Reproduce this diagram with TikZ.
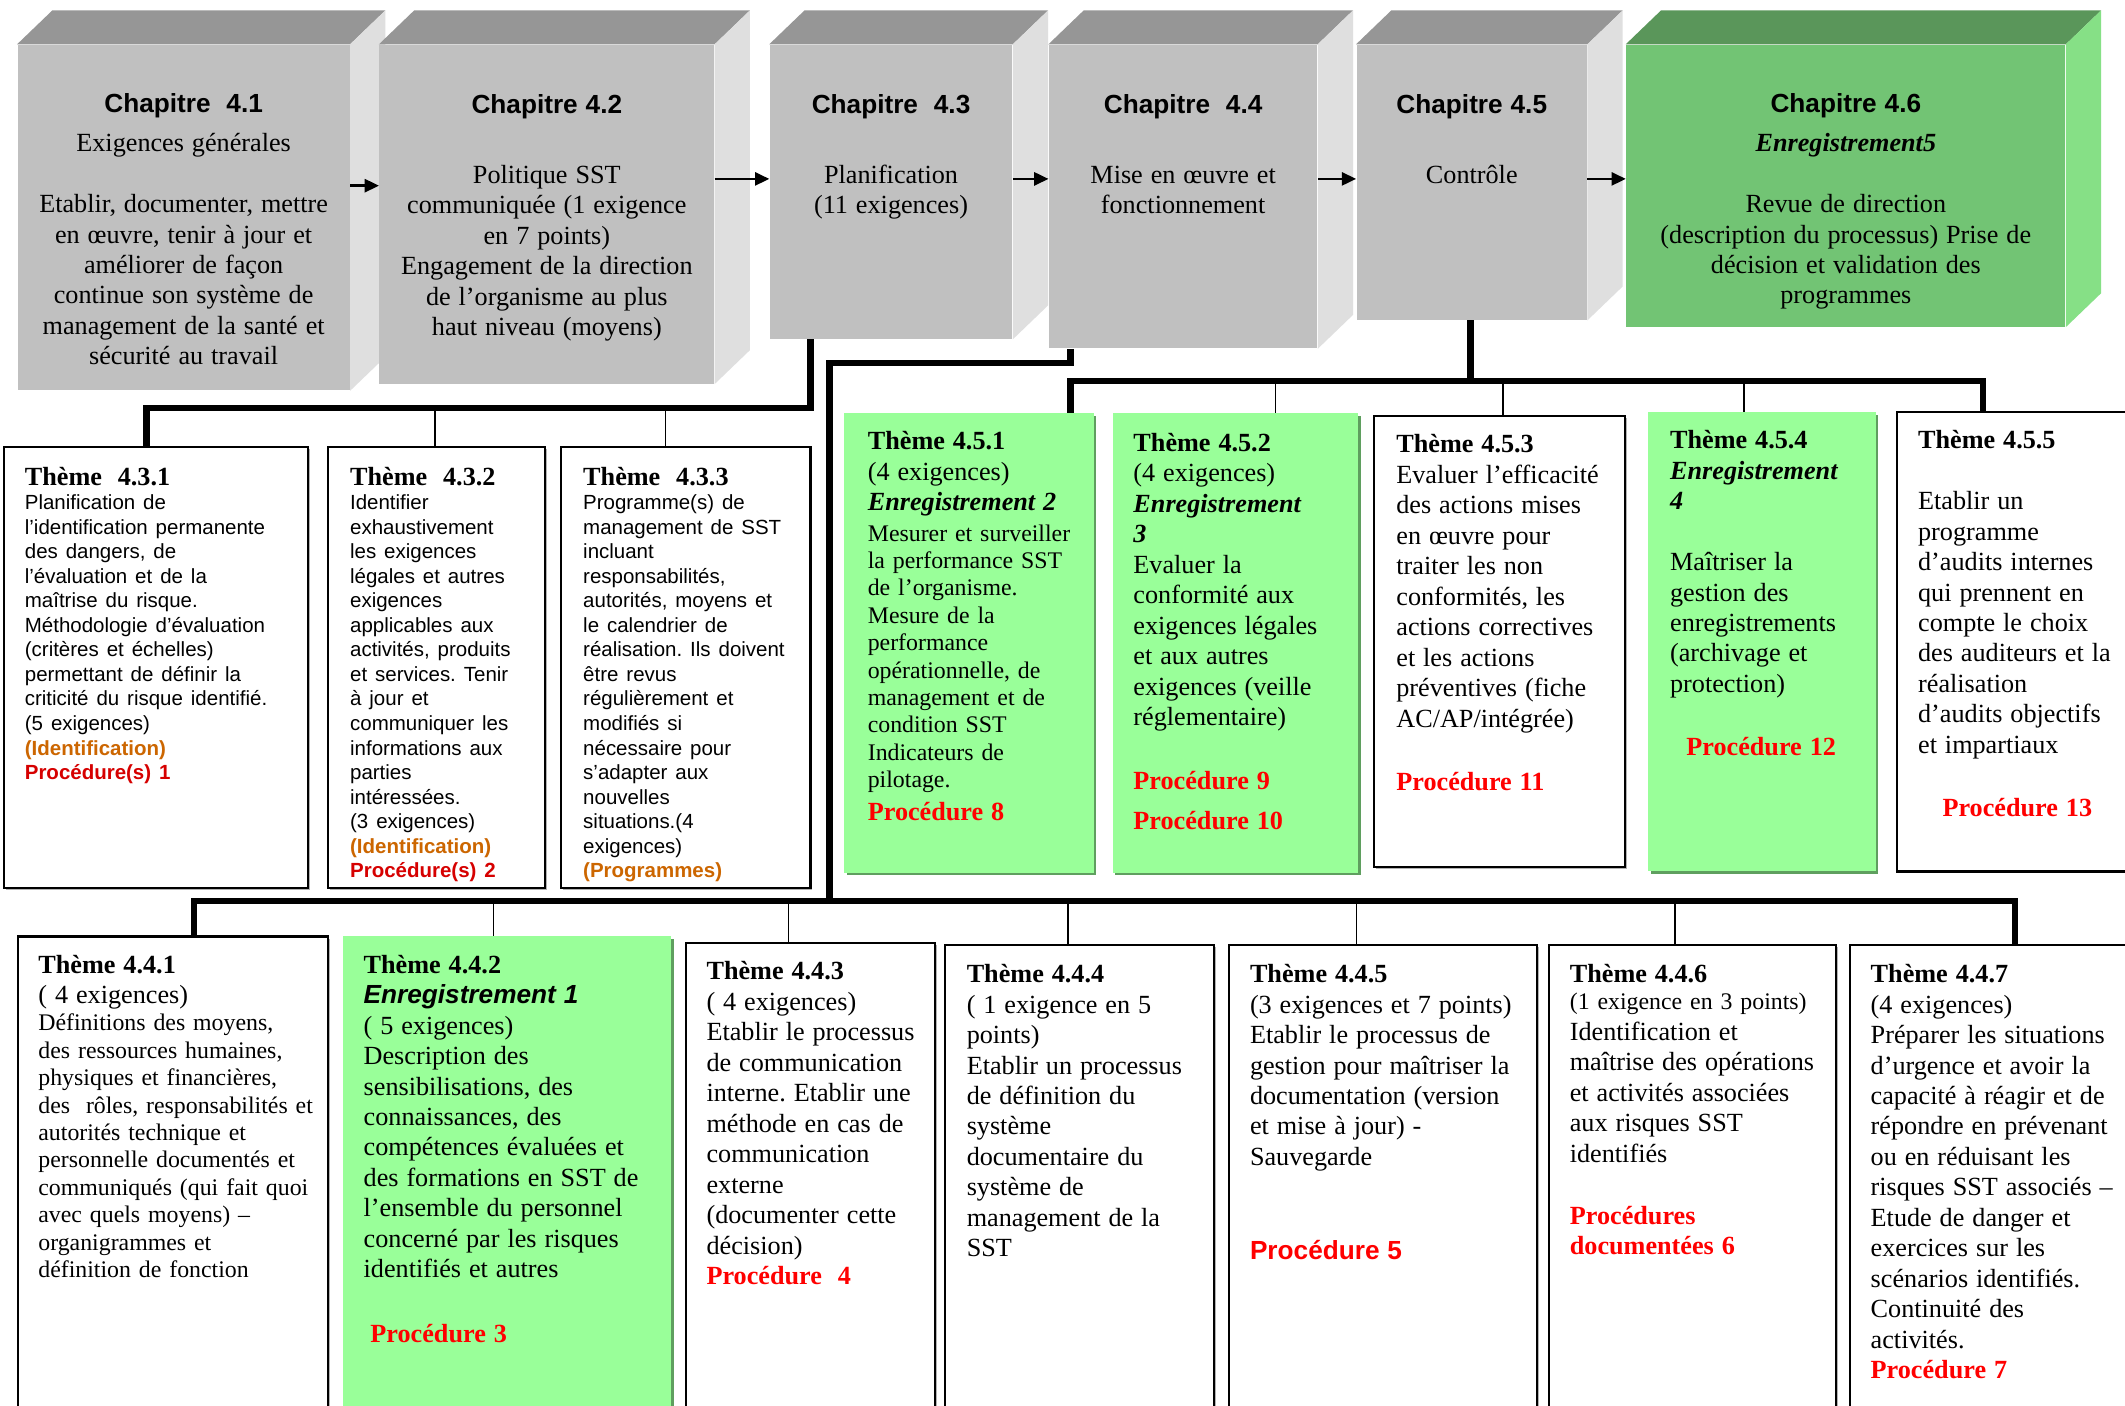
\documentclass[tikz,border=0pt]{standalone}
\usepackage{fontspec}
\setmainfont{Liberation Serif}
\setsansfont{Liberation Sans}
\usepackage{tikz}
\usetikzlibrary{positioning, arrows.meta, calc, fit, shadows}
\frenchspacing

% colours
\definecolor{chapgray}{RGB}{192,192,192}
\definecolor{chaptop}{RGB}{150,150,150}
\definecolor{chapside}{RGB}{223,223,223}
\definecolor{chapgreen}{RGB}{114,196,116}
\definecolor{chapgreentop}{RGB}{90,150,90}
\definecolor{chapgreenside}{RGB}{134,224,134}
\definecolor{themegreen}{RGB}{153,255,153}
\definecolor{greenshade}{RGB}{95,159,95}
\definecolor{procred}{RGB}{255,0,0}
\definecolor{procdark}{RGB}{214,0,0}
\definecolor{idorange}{RGB}{204,102,0}

% font sizes
\newcommand{\fchap}{\sffamily\bfseries\fontsize{11}{12.8}\selectfont}
\newcommand{\fbig}{\fontsize{11}{12.8}\selectfont}
\newcommand{\fsmall}{\fontsize{10}{11.5}\selectfont}
\newcommand{\fsans}{\sffamily\fontsize{8.6}{10.3}\selectfont}
\newcommand{\redproc}[1]{\textcolor{procred}{\textbf{#1}}}

\begin{document}
\begin{tikzpicture}[
    x=0.2mm, y=-0.2mm,
    % Front face of a chapter block
    chapface/.style={fill=chapgray, inner sep=0pt},
    greenface/.style={fill=chapgreen, inner sep=0pt},
    % Theme boxes (white / green)
    themebox/.style={draw, line width=0.9pt, fill=white, inner sep=0pt,
        general shadow={fill=black!30, shadow xshift=0.3mm, shadow yshift=-0.3mm}},
    greenbox/.style={fill=themegreen, inner sep=0pt,
        general shadow={fill=greenshade, shadow xshift=0.4mm, shadow yshift=-0.4mm}},
    % Text blocks
    chaptext/.style={anchor=base, inner sep=0pt, align=center, text width=#1},
    bodytext/.style={anchor=base west, inner sep=0pt, align=left, text width=#1},
    % Connectors
    flow/.style={-{Triangle[length=6pt, width=5.5pt]}, line width=1pt},
    bus/.style={line width=2.7pt},
    drop/.style={line width=0.6pt},
]

% ============================================================
% Helper macro: top and side faces of a chapter block
% Arguments: #1=front node, #2=top colour, #3=side colour
% ============================================================
\newcommand{\drawcube}[3]{
    \fill[#2] (#1.north west) -- ++(26,-25) -- ($(#1.north east)+(26,-25)$)
        -- (#1.north east) -- cycle;
    \fill[#3] (#1.north east) -- ($(#1.north east)+(26,-25)$)
        -- ($(#1.south east)+(26,-25)$) -- (#1.south east) -- cycle;
}

\fill[white] (0,0) rectangle (1568,1037);
\useasboundingbox (0,0) rectangle (1568,1037);

% ============================================================
% Chapter blocks
% ============================================================
\node[chapface, fit={(13,33) (258,288)}] (c41) {};
\drawcube{c41}{chaptop}{chapside}
\node[chapface, fit={(280,33) (527,283)}] (c42) {};
\drawcube{c42}{chaptop}{chapside}
\node[chapface, fit={(568,33) (747,250)}] (c43) {};
\drawcube{c43}{chaptop}{chapside}
\node[chapface, fit={(774,33) (972,257)}] (c44) {};
\drawcube{c44}{chaptop}{chapside}
\node[chapface, fit={(1001,33) (1171,236)}] (c45) {};
\drawcube{c45}{chaptop}{chapside}
\node[greenface, fit={(1200,33) (1524,241)}] (c46) {};
\drawcube{c46}{chapgreentop}{chapgreenside}

% chapter texts
\node[chaptext=47mm] (c41txt) at (c41.center |- 0,83) {{\fchap Chapitre\ \ 4.1\par}\vspace{3.6pt}%
    {\fbig Exigences générales\\[12.8pt] Etablir, documenter, mettre\\ en œuvre, tenir à jour et\\
    améliorer de façon\\ continue son système de\\ management de la santé et\\ sécurité au travail\par}};
\node[chaptext=48mm] (c42txt) at (c42.center |- 0,84) {{\fchap Chapitre 4.2\par}\vspace{16.4pt}%
    {\fbig Politique SST\\ communiquée (1 exigence\\ en 7 points)\\ Engagement de la direction\\
    de l’organisme au plus\\ haut niveau (moyens)\par}};
\node[chaptext=35mm] (c43txt) at (c43.center |- 0,84) {{\fchap Chapitre\ \ 4.3\par}\vspace{16.4pt}%
    {\fbig Planification\\ (11 exigences)\par}};
\node[chaptext=39mm] (c44txt) at (c44.center |- 0,84) {{\fchap Chapitre\ \ 4.4\par}\vspace{16.4pt}%
    {\fbig Mise en œuvre et\\ fonctionnement\par}};
\node[chaptext=33mm] (c45txt) at (c45.center |- 0,84) {{\fchap Chapitre 4.5\par}\vspace{16.4pt}%
    {\fbig Contrôle\par}};
\node[chaptext=64mm] (c46txt) at (c46.center |- 0,83) {{\fchap Chapitre 4.6\par}\vspace{3.6pt}%
    {\fbig \textbf{\textit{Enregistrement5}}\\[12.8pt] Revue de direction\\
    (description du processus) Prise de\\ décision et validation des\\ programmes\par}};

% arrows between chapters
\draw[flow] (c41.east |- 0,137) -- (c42.west |- 0,137);
\draw[flow] (c42.east |- 0,132) -- (c43.west |- 0,132);
\draw[flow] (c43.east |- 0,132) -- (c44.west |- 0,132);
\draw[flow] (c44.east |- 0,132) -- (c45.west |- 0,132);
\draw[flow] (c45.east |- 0,132) -- (c46.west |- 0,132);

% ============================================================
% Themes of chapter 4.3
% ============================================================
\node[themebox, fit={(3,330) (227,655)}] (t431) {};
\node[themebox, fit={(242,330) (402,655)}] (t432) {};
\node[themebox, fit={(414,330) (598,655)}] (t433) {};

\node[bodytext=43mm] (t431txt) at (18,358) {{\fbig\textbf{Thème\ \ 4.3.1}\par}%
    {\fsans Planification de\\ l’identification permanente\\ des dangers, de\\ l’évaluation et de la\\
    maîtrise du risque.\\ Méthodologie d’évaluation\\ (critères et échelles)\\ permettant de définir la\\
    criticité du risque identifié.\\ (5 exigences)\\ \textcolor{idorange}{\textbf{(Identification)}}\\
    \textcolor{procdark}{\textbf{Procédure(s) 1}}\par}};
\node[bodytext=30mm] (t432txt) at (258,358) {{\fbig\textbf{Thème\ \ 4.3.2}\par}%
    {\fsans Identifier\\ exhaustivement\\ les exigences\\ légales et autres\\ exigences\\ applicables aux\\
    activités, produits\\ et services. Tenir\\ à jour et\\ communiquer les\\ informations aux\\ parties\\
    intéressées.\\ (3 exigences)\\ \textcolor{idorange}{\textbf{(Identification)}}\\
    \textcolor{procdark}{\textbf{Procédure(s) 2}}\par}};
\node[bodytext=35mm] (t433txt) at (430,358) {{\fbig\textbf{Thème\ \ 4.3.3}\par}%
    {\fsans Programme(s) de\\ management de SST\\ incluant\\ responsabilités,\\ autorités, moyens et\\
    le calendrier de\\ réalisation. Ils doivent\\ être revus\\ régulièrement et\\ modifiés si\\
    nécessaire pour\\ s’adapter aux\\ nouvelles\\ situations.(4\\ exigences)\\
    \textcolor{idorange}{\textbf{(Programmes)}}\par}};

% bus from chapter 4.3
\coordinate (b43) at (598,301);
\coordinate (b43l) at (108,301);
\draw[bus] (c43.south -| b43) -- (b43) -- (b43l) -- (b43l |- t431.north);
\coordinate (d432) at (321,301);
\coordinate (d433) at (491,301);
\draw[drop] (d432) -- (d432 |- t432.north);
\draw[drop] (d433) -- (d433 |- t433.north);

% ============================================================
% Themes of chapter 4.5
% ============================================================
\node[greenbox, fit={(623,305) (807,644)}] (t451) {};
\node[greenbox, fit={(821,305) (1002,644)}] (t452) {};
\node[themebox, fit={(1014,307) (1199,640)}] (t453) {};
\node[greenbox, fit={(1216,304) (1384,643)}] (t454) {};
\node[themebox, fit={(1400,304) (1590,643)}] (t455) {};

\node[bodytext=35mm] (t451txt) at (640,332) {{\fbig\textbf{Thème 4.5.1}\\ (4 exigences)\\
    \textbf{\textit{Enregistrement 2}}\par}\vspace{1.2pt}%
    {\fsmall Mesurer et surveiller\\ la performance SST\\ de l’organisme.\\ Mesure de la\\ performance\\
    opérationnelle, de\\ management et de\\ condition SST\\ Indicateurs de\\ pilotage.\par}\vspace{0.8pt}%
    {\fbig\redproc{Procédure 8}\par}};
\node[bodytext=35mm] (t452txt) at (836,333) {{\fbig\textbf{Thème 4.5.2}\\ (4 exigences)\\
    \textbf{\textit{Enregistrement}}\\ \textbf{\textit{3}}\\ Evaluer la\\ conformité aux\\ exigences légales\\
    et aux autres\\ exigences (veille\\ réglementaire)\\[14pt] \redproc{Procédure 9}\\[3.8pt]
    \redproc{Procédure 10}\par}};
\node[bodytext=35mm] (t453txt) at (1030,334) {{\fbig\textbf{Thème 4.5.3}\\ Evaluer l’efficacité\\
    des actions mises\\ en œuvre pour\\ traiter les non\\ conformités, les\\ actions correctives\\
    et les actions\\ préventives (fiche\\ AC/AP/intégrée)\\[14pt] \redproc{Procédure 11}\par}};
\node[bodytext=32mm] (t454txt) at (1232,331) {{\fbig\textbf{Thème 4.5.4}\\ \textbf{\textit{Enregistrement}}\\
    \textbf{\textit{4}}\\[12.8pt] Maîtriser la\\ gestion des\\ enregistrements\\ (archivage et\\ protection)\\[13.6pt]
    \hspace*{2.4mm}\redproc{Procédure 12}\par}};
\node[bodytext=40mm] (t455txt) at (1415,331) {{\fbig\textbf{Thème 4.5.5}\\[12.8pt] Etablir un\\ programme\\
    d’audits internes\\ qui prennent en\\ compte le choix\\ des auditeurs et la\\ réalisation\\
    d’audits objectifs\\ et impartiaux\\[13.6pt] \hspace*{3.6mm}\redproc{Procédure 13}\par}};

% bus from chapter 4.5
\coordinate (b45) at (1085,281);
\coordinate (b45l) at (790,281);
\coordinate (b45r) at (1463,281);
\draw[bus] (c45.south -| b45) -- (b45);
\draw[bus] (b45l |- t451.north) -- (b45l) -- (b45r) -- (b45r |- t455.north);
\coordinate (d452) at (941,281);
\coordinate (d453) at (1109,281);
\coordinate (d454) at (1287,281);
\draw[drop] (d452) -- (d452 |- t452.north);
\draw[drop] (d453) -- (d453 |- t453.north);
\draw[drop] (d454) -- (d454 |- t454.north);

% ============================================================
% Themes of chapter 4.4
% ============================================================
\node[themebox, fit={(13,691) (242,1050)}] (t441) {};
\node[greenbox, fit={(253,691) (495,1050)}] (t442) {};
\node[themebox, fit={(506,696) (690,1050)}] (t443) {};
\node[themebox, fit={(697,697) (896,1050)}] (t444) {};
\node[themebox, fit={(907,697) (1134,1050)}] (t445) {};
\node[themebox, fit={(1143,697) (1355,1050)}] (t446) {};
\node[themebox, fit={(1365,697) (1590,1050)}] (t447) {};

\node[bodytext=44mm] (t441txt) at (28,718) {{\fbig\textbf{Thème 4.4.1}\\ ( 4 exigences)\par}%
    {\fsmall Définitions des moyens,\\ des ressources humaines,\\ physiques et financières,\\
    des\ \ rôles, responsabilités et\\ autorités technique et\\ personnelle documentés et\\
    communiqués (qui fait quoi\\ avec quels moyens) –\\ organigrammes et\\ définition de fonction\par}};
\node[bodytext=46mm] (t442txt) at (268,718) {{\fbig\textbf{Thème 4.4.2}\\
    {\sffamily\bfseries\itshape Enregistrement 1}\\ ( 5 exigences)\\ Description des\\
    sensibilisations, des\\ connaissances, des\\ compétences évaluées et\\ des formations en SST de\\
    l’ensemble du personnel\\ concerné par les risques\\ identifiés et autres\\[14.4pt]
    \hspace*{1mm}\redproc{Procédure 3}\par}};
\node[bodytext=35mm] (t443txt) at (521,723) {{\fbig\textbf{Thème 4.4.3}\\ ( 4 exigences)\\
    Etablir le processus\\ de communication\\ interne. Etablir une\\ méthode en cas de\\ communication\\
    externe\\ (documenter cette\\ décision)\\ \redproc{Procédure\ \ 4}\par}};
\node[bodytext=37mm] (t444txt) at (713,725) {{\fbig\textbf{Thème 4.4.4}\\ ( 1 exigence en 5\\ points)\\
    Etablir un processus\\ de définition du\\ système\\ documentaire du\\ système de\\
    management de la\\ SST\par}};
\node[bodytext=43mm] (t445txt) at (922,725) {{\fbig\textbf{Thème 4.4.5}\\ (3 exigences et 7 points)\\
    Etablir le processus de\\ gestion pour maîtriser la\\ documentation (version\\
    et mise à jour) -\\ Sauvegarde\\[26.6pt]
    \textcolor{procred}{\sffamily\bfseries Procédure 5}\par}};
\node[bodytext=40mm] (t446txt) at (1158,725) {{\fbig\textbf{Thème 4.4.6}\par}%
    {\fsmall (1 exigence en 3 points)\par}%
    {\fbig Identification et\\ maîtrise des opérations\\ et activités associées\\ aux risques SST\\
    identifiés\\[13.2pt] \redproc{Procédures}\\ \redproc{documentées 6}\par}};
\node[bodytext=40mm] (t447txt) at (1380,725) {{\fbig\textbf{Thème 4.4.7}\\ (4 exigences)\\
    Préparer les situations\\ d’urgence et avoir la\\ capacité à réagir et de\\ répondre en prévenant\\
    ou en réduisant les\\ risques SST associés –\\ Etude de danger et\\ exercices sur les\\
    scénarios identifiés.\\ Continuité des\\ activités.\\ \redproc{Procédure 7}\par}};

% bus from chapter 4.4
\coordinate (b44a) at (790,268);
\coordinate (b44b) at (612,268);
\coordinate (b44c) at (612,665);
\coordinate (b44l) at (143,665);
\coordinate (b44r) at (1487,665);
\draw[bus] (c44.south -| b44a) -- (b44a) -- (b44b) -- (b44c);
\draw[bus] (b44l |- t441.north) -- (b44l) -- (b44r) -- (b44r |- t447.north);
\coordinate (d442) at (364,665);
\coordinate (d443) at (582,665);
\coordinate (d444) at (788,665);
\coordinate (d445) at (1001,665);
\coordinate (d446) at (1236,665);
\draw[drop] (d442) -- (d442 |- t442.north);
\draw[drop] (d443) -- (d443 |- t443.north);
\draw[drop] (d444) -- (d444 |- t444.north);
\draw[drop] (d445) -- (d445 |- t445.north);
\draw[drop] (d446) -- (d446 |- t446.north);

\end{tikzpicture}
\end{document}
